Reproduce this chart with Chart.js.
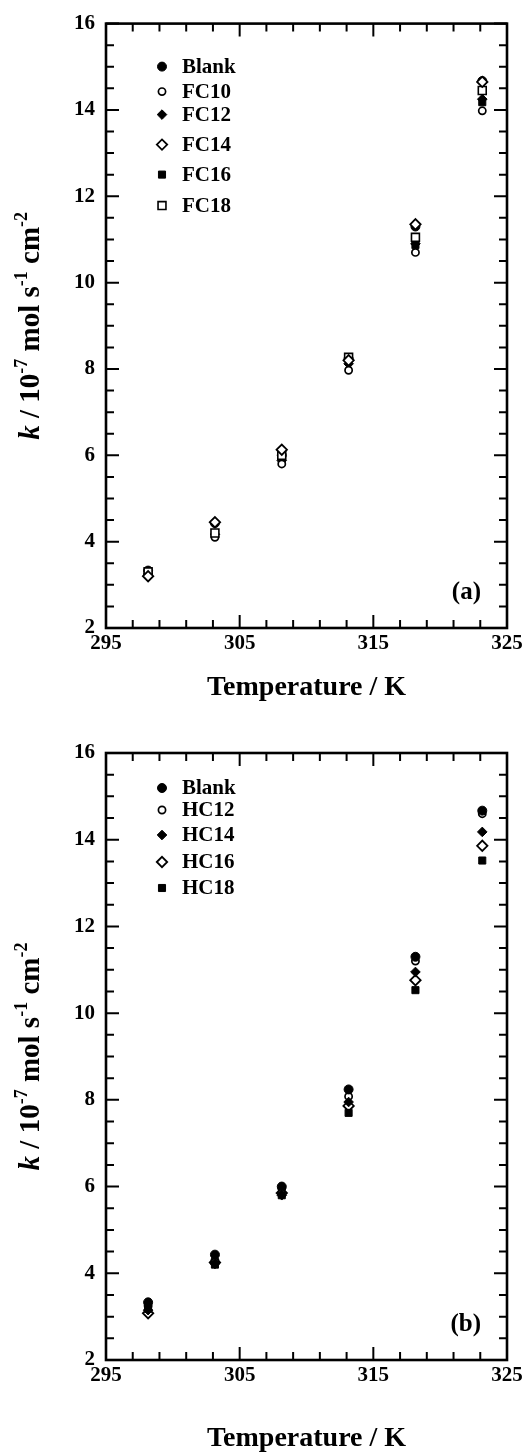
<!DOCTYPE html>
<html>
<head>
<meta charset="utf-8">
<script src="https://cdn.jsdelivr.net/npm/chart.js@4.4.1/dist/chart.umd.min.js"></script>
<style>
  html, body { margin: 0; padding: 0; background: #fff; }
  #wrap { position: relative; width: 528px; height: 1453px; }
  canvas { position: absolute; left: 0; }
  #chartA { top: 0; }
  #chartB { top: 726px; }
</style>
</head>
<body>
<div id="wrap">
  <canvas id="chartA" width="528" height="726"></canvas>
  <canvas id="chartB" width="528" height="727"></canvas>
</div>
<script>
// temperatures (K) and rate constants k (10^-7 mol s^-1 cm^-2)
const temperatures = [298.15, 303.15, 308.15, 313.15, 318.15, 323.15];
const xTicks = [295, 305, 315, 325];
const yTicks = [2, 4, 6, 8, 10, 12, 14, 16];

const blank = [3.33, 4.43, 6.00, 8.24, 11.30, 14.67];

// panel (a): fluorocarbon surfactants
const fc10 = [3.22, 4.10, 5.80, 7.97, 10.70, 13.98];
const fc12 = [3.25, 4.17, 5.88, 8.12, 10.90, 14.25];
const fc14 = [3.20, 4.45, 6.13, 8.20, 11.35, 14.65];
const fc16 = [3.28, 4.20, 5.92, 8.25, 10.87, 14.18];
const fc18 = [3.30, 4.20, 6.00, 8.27, 11.05, 14.45];

// panel (b): hydrocarbon surfactants
const hc12 = [3.25, 4.30, 5.96, 8.08, 11.20, 14.60];
const hc14 = [3.15, 4.22, 5.80, 7.95, 10.95, 14.18];
const hc16 = [3.08, 4.25, 5.85, 7.86, 10.76, 13.86];
const hc18 = [3.18, 4.20, 5.80, 7.70, 10.53, 13.52];

const FONT = 'Liberation Serif, Times New Roman, serif';

// marker looks, keyed by symbol name
const markers = {
  dot:        { pointStyle: 'circle',  radius: 4.5, fill: '#000', borderWidth: 1 },
  ring:       { pointStyle: 'circle',  radius: 3.6, fill: '#fff', borderWidth: 1.7 },
  diamond:    { pointStyle: 'rectRot', radius: 4.8, fill: '#000', borderWidth: 1 },
  diamondOpen:{ pointStyle: 'rectRot', radius: 5.2, fill: '#fff', borderWidth: 1.8 },
  square:     { pointStyle: 'rect',    radius: 5.0, fill: '#000', borderWidth: 1 },
  squareOpen: { pointStyle: 'rect',    radius: 5.6, fill: '#fff', borderWidth: 1.6 }
};

function dataset(label, values, marker, order) {
  const m = markers[marker];
  return {
    label: label,
    data: temperatures.map((t, i) => ({ x: t, y: values[i] })),
    pointStyle: m.pointStyle,
    pointRadius: m.radius,
    pointBackgroundColor: m.fill,
    pointBorderColor: '#000',
    pointBorderWidth: m.borderWidth,
    showLine: false,
    order: order,
    marker: marker
  };
}

// frame with inward ticks on all four sides, legend, axis title and panel tag
const framePlugin = {
  id: 'frame',
  afterDraw(chart, args, opts) {
    const ctx = chart.ctx;
    const a = chart.chartArea;
    const xs = chart.scales.x, ys = chart.scales.y;
    ctx.save();
    ctx.strokeStyle = '#000';
    ctx.lineCap = 'butt';

    ctx.lineWidth = 2;
    for (let v = 295; v <= 325.001; v += 2) {
      const px = xs.getPixelForValue(v);
      const len = (Math.abs((v - 295) % 10) < 0.01) ? 13 : 8;
      ctx.beginPath();
      ctx.moveTo(px, a.bottom); ctx.lineTo(px, a.bottom - len);
      ctx.moveTo(px, a.top); ctx.lineTo(px, a.top + len);
      ctx.stroke();
    }
    for (let v = 2; v <= 16.001; v += 0.5) {
      const py = ys.getPixelForValue(v);
      const len = (Math.abs(v % 2) < 0.01) ? 13 : 8;
      ctx.beginPath();
      ctx.moveTo(a.left, py); ctx.lineTo(a.left + len, py);
      ctx.moveTo(a.right, py); ctx.lineTo(a.right - len, py);
      ctx.stroke();
    }
    ctx.lineWidth = 2.6;
    ctx.strokeRect(a.left, a.top, a.right - a.left, a.bottom - a.top);

    // legend
    ctx.textBaseline = 'middle';
    ctx.textAlign = 'left';
    ctx.font = 'bold 21px ' + FONT;
    chart.data.datasets.forEach((ds, i) => {
      const m = markers[ds.marker];
      const y = a.top + opts.legendRows[i];
      ctx.fillStyle = m.fill;
      ctx.lineWidth = m.borderWidth;
      Chart.helpers.drawPoint(ctx, { pointStyle: m.pointStyle, radius: m.radius, borderWidth: m.borderWidth, rotation: 0 }, 162, y);
      ctx.fillStyle = '#000';
      ctx.fillText(ds.label, 182, y + 1);
    });

    // panel tag
    ctx.font = 'bold 25px ' + FONT;
    ctx.textAlign = 'right';
    ctx.fillText(opts.tag, a.right - 26, a.bottom - 35);

    // y axis title with superscripts
    const parts = [
      { t: 'k', f: 'italic bold 29px ' + FONT, dy: 0 },
      { t: ' / 10', f: 'bold 29px ' + FONT, dy: 0 },
      { t: '-7', f: 'bold 18px ' + FONT, dy: -12 },
      { t: ' mol s', f: 'bold 29px ' + FONT, dy: 0 },
      { t: '-1', f: 'bold 18px ' + FONT, dy: -12 },
      { t: ' cm', f: 'bold 29px ' + FONT, dy: 0 },
      { t: '-2', f: 'bold 18px ' + FONT, dy: -12 }
    ];
    let total = 0;
    parts.forEach(p => { ctx.font = p.f; p.w = ctx.measureText(p.t).width; total += p.w; });
    ctx.translate(39, (a.top + a.bottom) / 2);
    ctx.rotate(-Math.PI / 2);
    ctx.textAlign = 'left';
    ctx.textBaseline = 'alphabetic';
    let x = -total / 2;
    parts.forEach(p => { ctx.font = p.f; ctx.fillText(p.t, x, p.dy); x += p.w; });
    ctx.restore();
  }
};

function makeChart(id, datasets, cfg) {
  const tickFont = { family: FONT, size: 21, weight: 'bold' };
  return new Chart(document.getElementById(id), {
    type: 'scatter',
    data: { datasets: datasets },
    options: {
      responsive: false,
      animation: false,
      devicePixelRatio: 1,
      layout: { padding: { top: cfg.top, right: 21, left: 0, bottom: 0 } },
      plugins: {
        legend: { display: false },
        tooltip: { enabled: false },
        frame: { legendRows: cfg.legendRows, tag: cfg.tag }
      },
      scales: {
        x: {
          type: 'linear', min: 295, max: 325,
          afterBuildTicks: s => { s.ticks = xTicks.map(v => ({ value: v })); },
          afterFit: s => { s.height = cfg.xHeight; },
          grid: { display: false, drawTicks: false },
          border: { display: false },
          ticks: { font: tickFont, color: '#000', padding: 3, maxRotation: 0, autoSkip: false },
          title: {
            display: true, text: 'Temperature / K', color: '#000',
            font: { family: FONT, size: 28, weight: 'bold', lineHeight: 1 },
            padding: { top: 0, bottom: cfg.titlePad }
          }
        },
        y: {
          type: 'linear', min: 2, max: 16,
          afterBuildTicks: s => { s.ticks = yTicks.map(v => ({ value: v })); },
          afterFit: s => { s.width = 106; },
          grid: { display: false, drawTicks: false },
          border: { display: false },
          ticks: { font: tickFont, color: '#000', padding: 11 }
        }
      }
    },
    plugins: [framePlugin]
  });
}

makeChart('chartA', [
  dataset('Blank', blank, 'dot', 5),
  dataset('FC10', fc10, 'ring', 2),
  dataset('FC12', fc12, 'diamond', 4),
  dataset('FC14', fc14, 'diamondOpen', 0),
  dataset('FC16', fc16, 'square', 3),
  dataset('FC18', fc18, 'squareOpen', 1)
], { top: 20, xHeight: 98, titlePad: 24, tag: '(a)', legendRows: [43, 68, 91, 121, 151, 182] });

makeChart('chartB', [
  dataset('Blank', blank, 'dot', 0),
  dataset('HC12', hc12, 'ring', 4),
  dataset('HC14', hc14, 'diamond', 2),
  dataset('HC16', hc16, 'diamondOpen', 3),
  dataset('HC18', hc18, 'square', 1)
], { top: 27, xHeight: 93, titlePad: 0, tag: '(b)', legendRows: [35, 57, 82, 109, 135] });
</script>
</body>
</html>
